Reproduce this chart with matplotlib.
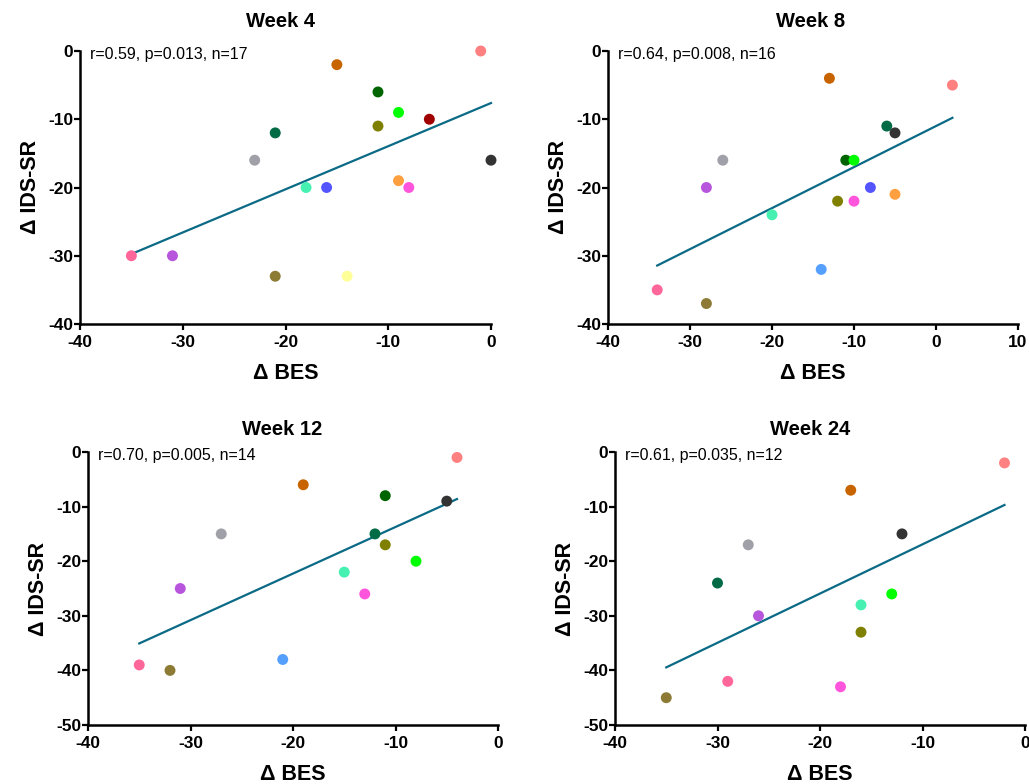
import numpy as np
import matplotlib
matplotlib.use("Agg")
import matplotlib.pyplot as plt

plt.rcParams['font.family'] = ['Liberation Sans', 'DejaVu Sans']
plt.rcParams['axes.unicode_minus'] = False

# subject colours (same subject keeps the same colour in every panel)
subj_colors = {
    "salmon": "#FF8080", "rust": "#C86400", "dkgreen": "#006400", "lime": "#00FF00",
    "dkred": "#A00000", "olive": "#808000", "teal": "#006B45", "gray": "#A0A0A8",
    "black": "#333333", "aqua": "#45F0B0", "blue": "#5555FF", "orange": "#FFA040",
    "magenta": "#FF55DD", "rose": "#FF6699", "purple": "#B855DD", "khaki": "#8C7A35",
    "yellow": "#FFFF99", "skyblue": "#55A0FF",
}

# Week 4
w4_subj = ["salmon", "rust", "dkgreen", "lime", "dkred", "olive", "teal", "gray", "black",
           "aqua", "blue", "orange", "magenta", "rose", "purple", "khaki", "yellow"]
w4_bes = [-1, -15, -11, -9, -6, -11, -21, -23, 0, -18, -16, -9, -8, -35, -31, -21, -14]
w4_ids = [0, -2, -6, -9, -10, -11, -12, -16, -16, -20, -20, -19, -20, -30, -30, -33, -33]

# Week 8
w8_subj = ["salmon", "rust", "teal", "black", "dkgreen", "lime", "gray", "purple", "blue",
           "orange", "olive", "magenta", "aqua", "skyblue", "rose", "khaki"]
w8_bes = [2, -13, -6, -5, -11, -10, -26, -28, -8, -5, -12, -10, -20, -14, -34, -28]
w8_ids = [-5, -4, -11, -12, -16, -16, -16, -20, -20, -21, -22, -22, -24, -32, -35, -37]

# Week 12
w12_subj = ["salmon", "rust", "dkgreen", "black", "gray", "teal", "olive", "lime", "aqua",
            "purple", "magenta", "skyblue", "rose", "khaki"]
w12_bes = [-4, -19, -11, -5, -27, -12, -11, -8, -15, -31, -13, -21, -35, -32]
w12_ids = [-1, -6, -8, -9, -15, -15, -17, -20, -22, -25, -26, -38, -39, -40]

# Week 24
w24_subj = ["salmon", "rust", "black", "gray", "teal", "lime", "aqua", "purple", "olive",
            "rose", "magenta", "khaki"]
w24_bes = [-2, -17, -12, -27, -30, -13, -16, -26, -16, -29, -18, -35]
w24_ids = [-2, -7, -15, -17, -24, -26, -28, -30, -33, -42, -43, -45]

titles = ["Week 4", "Week 8", "Week 12", "Week 24"]
stats = ["r=0.59, p=0.013, n=17", "r=0.64, p=0.008, n=16",
         "r=0.70, p=0.005, n=14", "r=0.61, p=0.035, n=12"]
xlims = [(-40, 0), (-40, 10), (-40, 0), (-40, 0)]
ylims = [(-40, 0), (-40, 0), (-50, 0), (-50, 0)]
data = [(w4_subj, w4_bes, w4_ids), (w8_subj, w8_bes, w8_ids),
        (w12_subj, w12_bes, w12_ids), (w24_subj, w24_bes, w24_ids)]

# axes boxes in pixels: left, top, right, bottom
W, H = 1029, 784
boxes = [(80, 51, 491, 324), (608, 51, 1018, 324),
         (88, 452, 498, 725), (615, 452, 1025, 725)]
title_x = [0.488, 0.493, 0.473, 0.476]
title_pad = [17, 17, 12, 12]

fig = plt.figure(figsize=(W / 100, H / 100), dpi=100)
line_col = "#0B6A85"

for i in range(4):
    l, t, r, b = boxes[i]
    ax = fig.add_axes([l / W, 1 - b / H, (r - l) / W, (b - t) / H])
    subj, bes, ids = data[i]
    x = np.array(bes, dtype=float)
    y = np.array(ids, dtype=float)

    # least squares fit line over the data range
    slope, icpt = np.polyfit(x, y, 1)
    xs = np.array([x.min(), x.max()])
    ax.plot(xs, slope * xs + icpt, color=line_col, lw=1.6, zorder=2, clip_on=False)

    ax.scatter(x, y, c=[subj_colors[s] for s in subj], s=62, zorder=3,
               linewidths=0, clip_on=False)

    ax.set_xlim(xlims[i])
    ax.set_ylim(ylims[i])
    ax.set_xticks(np.arange(xlims[i][0], xlims[i][1] + 1, 10))
    ax.set_yticks(np.arange(ylims[i][0], ylims[i][1] + 1, 10))
    for side in ["top", "right"]:
        ax.spines[side].set_visible(False)
    for side in ["left", "bottom"]:
        ax.spines[side].set_linewidth(1.8)
    ax.tick_params(direction="out", length=4, width=1.6, labelsize=12.5)
    ax.tick_params(axis="x", pad=4)
    ax.tick_params(axis="y", pad=1)
    for lab in ax.get_xticklabels() + ax.get_yticklabels():
        lab.set_fontweight("bold")

    ax.set_title(titles[i], fontsize=14.5, fontweight="bold", pad=title_pad[i], x=title_x[i])
    ax.set_xlabel("\u0394 BES", fontsize=15.5, fontweight="bold", labelpad=9)
    ax.set_ylabel("\u0394 IDS-SR", fontsize=15.5, fontweight="bold", labelpad=5)
    ax.text(0.025, 1.015, stats[i], transform=ax.transAxes, fontsize=11.5,
            va="top", ha="left")

fig.savefig("out.png", dpi=100)
